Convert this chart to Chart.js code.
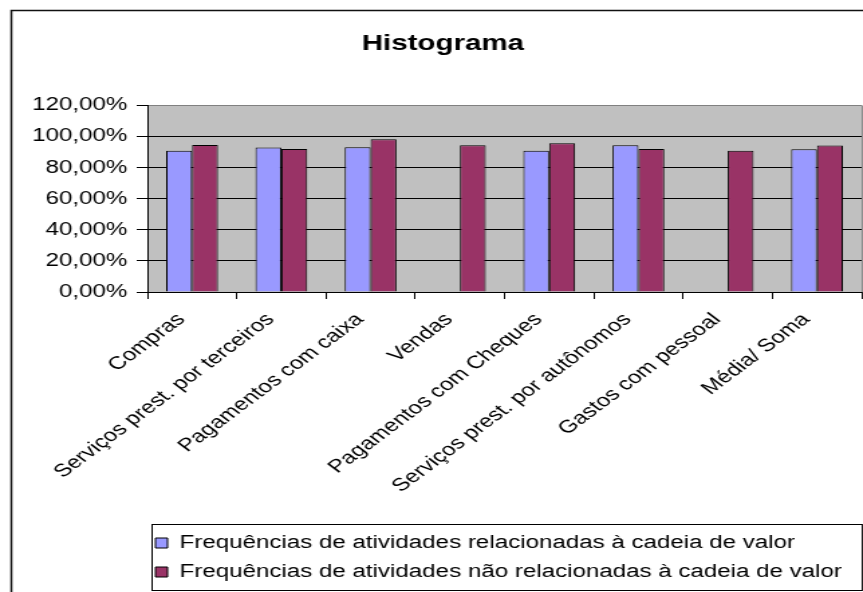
<!DOCTYPE html>
<html>
<head>
<meta charset="utf-8">
<script src="https://cdn.jsdelivr.net/npm/chart.js@4.4.1/dist/chart.umd.min.js"></script>
<style>
  html, body { margin: 0; padding: 0; background: #fff; overflow: hidden; }
  /* the reference is an Excel chart stretched sideways, so the canvas is too */
  #wrap { position: absolute; left: 0; top: 0; width: 660px; height: 600px; transform: scaleX(1.34); transform-origin: 0 0; }
</style>
</head>
<body>
<div id="wrap"><canvas id="myChart"></canvas></div>
<script>
var categories = [
  "Compras",
  "Serviços prest. por terceiros",
  "Pagamentos com caixa",
  "Vendas",
  "Pagamentos com Cheques",
  "Serviços prest. por autônomos",
  "Gastos com pessoal",
  "Média/ Soma"
];
var seriesNames = [
  "Frequências de atividades relacionadas à cadeia de valor",
  "Frequências de atividades não relacionadas à cadeia de valor"
];
// values in %
var relacionadas = [90.8, 92.9, 93.1, null, 90.8, 94.4, null, 91.8];
var naoRelacionadas = [94.6, 92.0, 98.3, 94.4, 95.7, 92.0, 90.8, 94.2];
var yTickLabels = ["0,00%", "20,00%", "40,00%", "60,00%", "80,00%", "100,00%", "120,00%"];

Chart.defaults.font.family = "'Liberation Sans', Arial, sans-serif";
Chart.defaults.color = "#000";

// grey plot area, outer frame, legend box
var excelLook = {
  id: "excelLook",
  beforeDraw: function (chart) {
    var ctx = chart.ctx;
    var a = chart.chartArea;
    ctx.save();
    ctx.fillStyle = "#fff";
    ctx.fillRect(0, 0, chart.width, chart.height);
    ctx.fillStyle = "#c0c0c0";
    ctx.fillRect(a.left, a.top, a.right - a.left, a.bottom - a.top);
    ctx.strokeStyle = "#111";
    ctx.lineWidth = 1.5;
    ctx.strokeRect(8.5, 10.5, chart.width + 20, chart.height + 20);
    ctx.restore();
  },
  afterLayout: function (chart) {
    // the frame goes on past the right edge, so the title sits a bit right
    chart.titleBlock.left += 9;
    chart.titleBlock.right += 9;
    chart.legend.left -= 5;
  },
  afterDraw: function (chart) {
    var ctx = chart.ctx;
    var a = chart.chartArea;
    var l = chart.legend;
    ctx.save();
    ctx.strokeStyle = "#808080";
    ctx.lineWidth = 1;
    ctx.beginPath();
    ctx.moveTo(a.right + 0.5, a.top);
    ctx.lineTo(a.right + 0.5, a.bottom);
    ctx.stroke();
    ctx.strokeStyle = "#000";
    ctx.lineWidth = 1;
    ctx.strokeRect(l.left + 8.5, l.top + 1.5, a.right - l.left - 8, l.bottom - l.top - 2);
    ctx.restore();
  }
};

var ctx = document.getElementById("myChart").getContext("2d");
var chart = new Chart(ctx, {
  type: "bar",
  data: {
    labels: categories,
    datasets: [
      {
        label: seriesNames[0],
        data: relacionadas,
        backgroundColor: "#9999ff",
        borderColor: "#000",
        borderWidth: 1,
        barPercentage: 1,
        categoryPercentage: 0.58
      },
      {
        label: seriesNames[1],
        data: naoRelacionadas,
        backgroundColor: "#993366",
        borderColor: "#000",
        borderWidth: 1,
        barPercentage: 1,
        categoryPercentage: 0.58
      }
    ]
  },
  options: {
    responsive: true,
    maintainAspectRatio: false,
    animation: false,
    layout: { padding: { left: 0, right: 17, top: 0, bottom: 9 } },
    plugins: {
      tooltip: { enabled: false },
      title: {
        display: true,
        text: "Histograma",
        color: "#000",
        font: { size: 22, weight: "bold" },
        padding: { top: 31, bottom: 48 }
      },
      legend: {
        position: "bottom",
        align: "start",
        fullSize: false,
        labels: {
          font: { size: 18 },
          color: "#000",
          boxWidth: 9,
          boxHeight: 10,
          padding: 11
        }
      }
    },
    scales: {
      x: {
        grid: {
          drawOnChartArea: false,
          color: "#000",
          tickLength: 7
        },
        border: { color: "#000", width: 1 },
        ticks: {
          autoSkip: false,
          minRotation: 45,
          maxRotation: 45,
          padding: 10,
          labelOffset: -8,
          color: "#000",
          font: { size: 18 }
        },
        afterFit: function (scale) {
          scale.height = 231;
        }
      },
      y: {
        min: 0,
        max: 120,
        ticks: {
          stepSize: 20,
          padding: 7,
          color: "#000",
          font: { size: 18 },
          callback: function (value, index) {
            return yTickLabels[index];
          }
        },
        grid: {
          color: function (c) {
            return c.tick && c.tick.value === 120 ? "#808080" : "#000";
          },
          tickColor: "#000",
          tickLength: 8
        },
        border: { color: "#000", width: 1 },
        afterFit: function (scale) {
          scale.width = 110;
        }
      }
    }
  },
  plugins: [excelLook]
});
</script>
</body>
</html>
